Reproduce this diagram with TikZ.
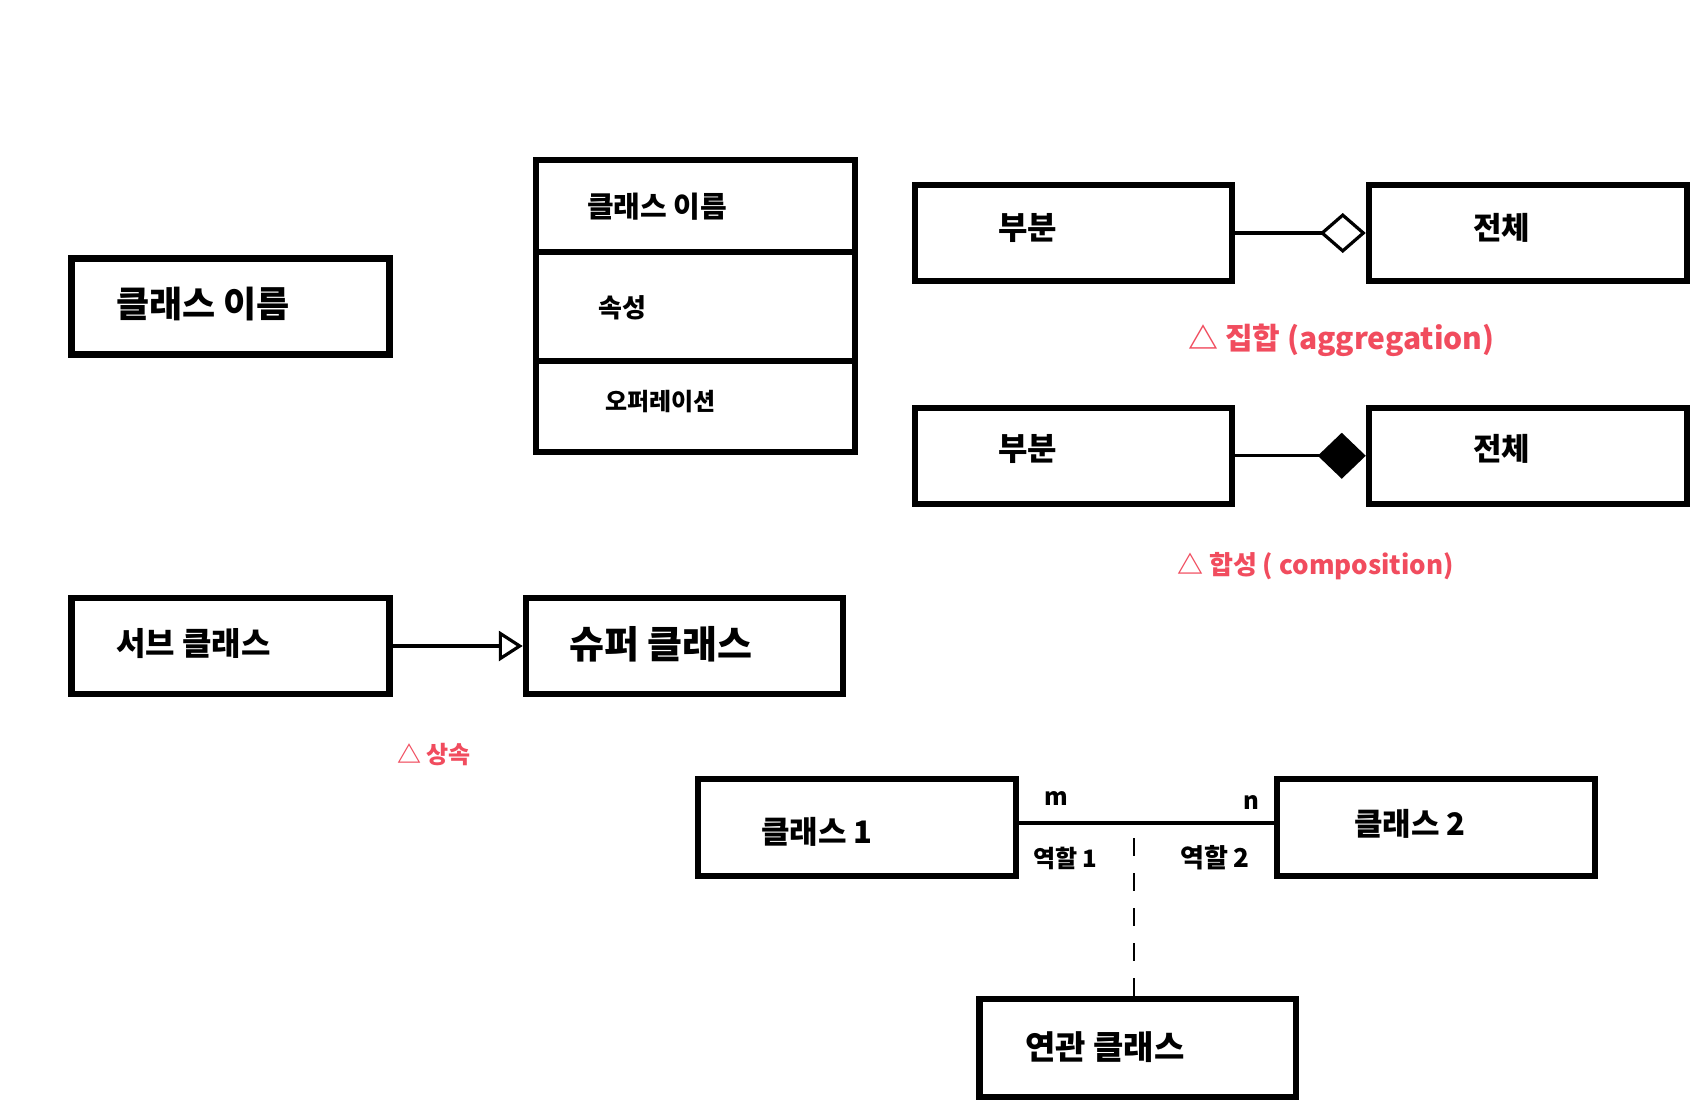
\documentclass[tikz,border=0pt]{standalone}
\usepackage{fontspec}
\setmainfont{Noto Sans CJK KR}
\usetikzlibrary{arrows.meta}
\definecolor{note}{RGB}{241,76,94}
\tikzset{
  box/.style={draw, line width=6.5pt, inner sep=0pt},
  txt/.style={anchor=west, inner sep=0pt, font=\fontsize{#1}{#1}\selectfont\bfseries},
  notetxt/.style={anchor=west, inner sep=0pt, text=note, font=\fontsize{#1}{#1}\selectfont\bfseries},
  conn/.style={line width=3.2pt},
}
\begin{document}
\begin{tikzpicture}[x=1pt,y=-1pt]
\fill[white] (0,0) rectangle (1705,1111);
\useasboundingbox (0,0) rectangle (1705,1111);

% single class box
\node[box, minimum width=318pt, minimum height=96pt] (cn) at (230.5,306.5) {};
\node[txt=36pt] (tcn) at (116,304) {클래스 이름};

% three-compartment class
\node[box, minimum width=319pt, minimum height=92pt] (ch) at (695.5,206) {};
\node[box, minimum width=319pt, minimum height=109pt] (ca) at (695.5,306.5) {};
\node[box, minimum width=319pt, minimum height=91pt] (co) at (695.5,406.5) {};
\node[txt=29pt] (th) at (587,207) {클래스 이름};
\node[txt=26pt] (ta) at (598,308) {속성};
\node[txt=24pt] (to) at (605,402) {오퍼레이션};

% aggregation
\node[box, minimum width=317pt, minimum height=96pt] (p1) at (1073.5,233) {};
\node[box, minimum width=318pt, minimum height=96pt] (w1) at (1528,233) {};
\node[txt=32pt] (tp1) at (998,228) {부분};
\node[txt=31pt] (tw1) at (1473,228) {전체};
\draw[conn, -{Diamond[open, fill=white, length=46pt, width=40pt]}] (p1.east) -- (w1.west);
\node[notetxt=30pt] (nag) at (1188,340) {△ 집합 (aggregation)};

% composition
\node[box, minimum width=317pt, minimum height=96pt] (p2) at (1073.5,455.75) {};
\node[box, minimum width=318pt, minimum height=96pt] (w2) at (1528,455.75) {};
\node[txt=32pt] (tp2) at (998,449) {부분};
\node[txt=31pt] (tw2) at (1473,449) {전체};
\draw[conn, -{Diamond[length=48pt, width=46pt]}] (p2.east) -- (w2.west);
\node[notetxt=26pt] (nco) at (1177,566) {△ 합성 ( composition)};

% inheritance
\node[box, minimum width=318pt, minimum height=96pt] (sub) at (230.5,646) {};
\node[box, minimum width=317pt, minimum height=96pt] (sup) at (684.5,646) {};
\node[txt=32pt] (tsub) at (116,644) {서브 클래스};
\node[txt=38pt] (tsup) at (569,644) {슈퍼 클래스};
\draw[conn, -{Triangle[open, fill=white, length=24pt, width=30pt]}] (sub.east) -- (sup.west);
\node[notetxt=24pt] (nin) at (397,755) {△ 상속};

% association
\node[box, minimum width=318pt, minimum height=97pt] (c1) at (857,827.5) {};
\node[box, minimum width=318pt, minimum height=97pt] (c2) at (1436,827.5) {};
\node[txt=31pt] (tc1) at (761,832) {클래스 1};
\node[txt=31pt] (tc2) at (1354,824) {클래스 2};
\draw[line width=4pt] ([yshift=5pt]c1.east) -- ([yshift=5pt]c2.west);
\node[txt=24pt] (tm) at (1044,798) {m};
\node[txt=24pt] (tn) at (1243,802) {n};
\node[txt=24pt] (tr1) at (1033,858) {역할 1};
\node[txt=26pt] (tr2) at (1180,858) {역할 2};

\node[box, minimum width=316.5pt, minimum height=98pt] (ac) at (1137.75,1048) {};
\node[txt=33pt] (tac) at (1025,1047) {연관 클래스};
\coordinate (am) at (1134,822.5);
\draw[line width=2.5pt, dash pattern=on 18pt off 17pt] (am |- ac.north) -- (am);
\end{tikzpicture}
\end{document}
